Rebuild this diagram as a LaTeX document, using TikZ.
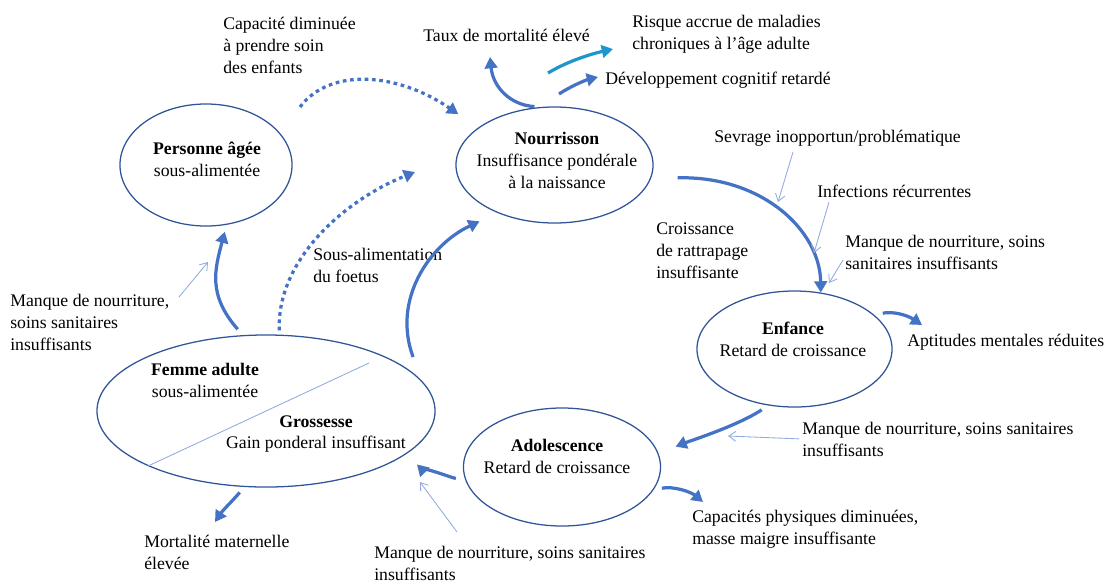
\documentclass[tikz,border=0pt]{standalone}
\usepackage{fontspec}
\setmainfont{Liberation Serif}
\usetikzlibrary{arrows.meta,shapes.geometric}

\definecolor{rimblue}{RGB}{47,85,151}
\definecolor{flowblue}{RGB}{68,114,196}
\definecolor{hintblue}{RGB}{143,170,220}
\definecolor{riskcyan}{RGB}{30,150,205}

\tikzset{
  stage/.style={draw=rimblue,line width=0.9pt,ellipse,inner sep=0pt},
  lbl/.style={inner sep=0pt,font=\fontsize{12.6}{15.6}\selectfont},
  flow/.style={draw=flowblue,line width=2.3pt,-{Triangle[length=8pt,width=9pt]}},
  dotflow/.style={flow,dash pattern=on 2.6pt off 2.6pt},
  hint/.style={draw=hintblue,line width=0.6pt,-{Straight Barb[length=5pt,width=7pt]}}
}

\begin{document}
\begin{tikzpicture}[x=0.025cm,y=-0.025cm]
\useasboundingbox (0,0) rectangle (1108,580);

\node[stage,minimum width=4.3cm,minimum height=3.05cm] (aged) at (206,165) {};
\node[stage,minimum width=4.925cm,minimum height=2.9cm] (infant) at (554.5,165) {};
\node[stage,minimum width=4.875cm,minimum height=2.9cm] (child) at (794.5,349) {};
\node[stage,minimum width=4.925cm,minimum height=2.95cm] (teen) at (562,467) {};
\node[stage,minimum width=8.45cm,minimum height=3.8cm] (woman) at (266,411) {};
\draw[draw=hintblue,line width=0.6pt] (woman.205) -- (369,363);

\node[lbl,align=center] (agedtxt) at (207,159.5) {\textbf{Personne âgée}\\sous-alimentée};
\node[lbl,align=center] (infanttxt) at (557,160.5) {\textbf{Nourrisson}\\Insuffisance pondérale\\à la naissance};
\node[lbl,align=center] (childtxt) at (793,339.5) {\textbf{Enfance}\\Retard de croissance};
\node[lbl,align=center] (teentxt) at (557,456) {\textbf{Adolescence}\\Retard de croissance};
\node[lbl,align=center] (womantxt) at (205,380) {\textbf{Femme adulte}\\sous-alimentée};
\node[lbl,align=center] (pregtxt) at (316,434) {\textbf{Grossesse}\\Gain ponderal insuffisant};

\node[lbl,align=left,anchor=west] (care) at (223,45) {Capacité diminuée\\à prendre soin\\des enfants};
\node[lbl,align=left,anchor=west] (taux) at (423,35) {Taux de mortalité élevé};
\node[lbl,align=left,anchor=west] (risk) at (632,34.5) {Risque accrue de maladies\\chroniques à l’âge adulte};
\node[lbl,align=left,anchor=west] (dev) at (605,80) {Développement cognitif retardé};
\node[lbl,align=left,anchor=west] (wean) at (714,138) {Sevrage inopportun/problématique};
\node[lbl,align=left,anchor=west] (infect) at (817,191) {Infections récurrentes};
\node[lbl,align=left,anchor=west] (lackchild) at (845,252.5) {Manque de nourriture, soins\\sanitaires insuffisants};
\node[lbl,align=left,anchor=west] (catchup) at (656,250.5) {Croissance\\de rattrapage\\insuffisante};
\node[lbl,align=left,anchor=west] (mental) at (907,342) {Aptitudes mentales réduites};
\node[lbl,align=left,anchor=west] (lackaged) at (10,322) {Manque de nourriture,\\soins sanitaires\\insuffisants};
\node[lbl,align=left,anchor=west] (fetus) at (313,265) {Sous-alimentation\\du foetus};
\node[lbl,align=left,anchor=west] (lackteen) at (802,439) {Manque de nourriture, soins sanitaires\\insuffisants};
\node[lbl,align=left,anchor=west] (phys) at (692,529) {Capacités physiques diminuées,\\masse maigre insuffisante};
\node[lbl,align=left,anchor=west] (lackwoman) at (374,563.5) {Manque de nourriture, soins sanitaires\\insuffisants};
\node[lbl,align=left,anchor=west] (mort) at (144,552) {Mortalité maternelle\\élevée};

\coordinate (fetusend) at (415,172);
\coordinate (carestart) at (300,107);
\coordinate (tauxend) at (490,57);
\coordinate (riskstart) at (548,73);
\coordinate (riskend) at (613,49);
\coordinate (devstart) at (559,94);
\coordinate (devend) at (598,77);
\coordinate (mentalend) at (922,325);
\coordinate (physend) at (703,502);
\coordinate (mortend) at (215,522);
\coordinate (hintteen) at (728,436);
\coordinate (hintwstart) at (457,532);
\coordinate (hintwend) at (420,482);
\coordinate (hintastart) at (179,297);
\coordinate (hintaend) at (208,262);
\coordinate (weanstart) at (793,152);
\coordinate (weanend) at (778,202);
\coordinate (infstart) at (829,202);
\coordinate (infend) at (814,253);
\coordinate (lackcstart) at (843,260);
\coordinate (lackcend) at (829,283);

\draw[flow,shorten <=5.5pt,shorten >=5pt] (woman.107) .. controls +(-35,-40) and +(-12,45) .. (aged.-71);
\draw[dotflow,shorten <=3pt] (woman.80) .. controls +(-3,-75) and +(-70,28) .. (fetusend);
\draw[dotflow,shorten >=17pt] (carestart) .. controls +(30,-40) and +(-80,-55) .. (infant.154);
\draw[flow,shorten <=18pt,shorten >=14pt] (woman.11) .. controls +(-30,-81) and +(-68,32) .. (infant.220);
\draw[flow,shorten <=4pt] (infant.104) .. controls +(-30,-2) and +(3,30) .. (tauxend);
\draw[flow,draw=riskcyan] (riskstart) .. controls +(20,-12) and +(-22,5) .. (riskend);
\draw[flow] (devstart) .. controls +(12,-8) and +(-12,3) .. (devend);
\draw[flow,shorten <=19pt] (infant.-8) .. controls +(110,-3) and +(-1,-63) .. (child.65);
\draw[flow,shorten <=6pt] (child.23) .. controls +(18,-4) and +(-15,-10) .. (mentalend);
\draw[flow,shorten <=5.5pt,shorten >=13pt] (child.-115) .. controls +(-30,20) and +(30,-12) .. (teen.8);
\draw[flow,shorten <=7pt,shorten >=10.5pt] (teen.188) .. controls +(-18,-4) and +(10,10) .. (woman.-17);
\draw[flow,shorten <=6pt] (teen.-14) .. controls +(20,-4) and +(-12,-10) .. (physend);
\draw[flow,shorten <=5pt] (woman.-106) .. controls +(-10,12) and +(8,-12) .. (mortend);

\draw[hint,shorten <=2pt] (lackteen.west) -- (hintteen);
\draw[hint] (hintwstart) -- (hintwend);
\draw[hint] (hintastart) -- (hintaend);
\draw[hint] (weanstart) -- (weanend);
\draw[hint] (infstart) -- (infend);
\draw[hint] (lackcstart) -- (lackcend);
\end{tikzpicture}
\end{document}
